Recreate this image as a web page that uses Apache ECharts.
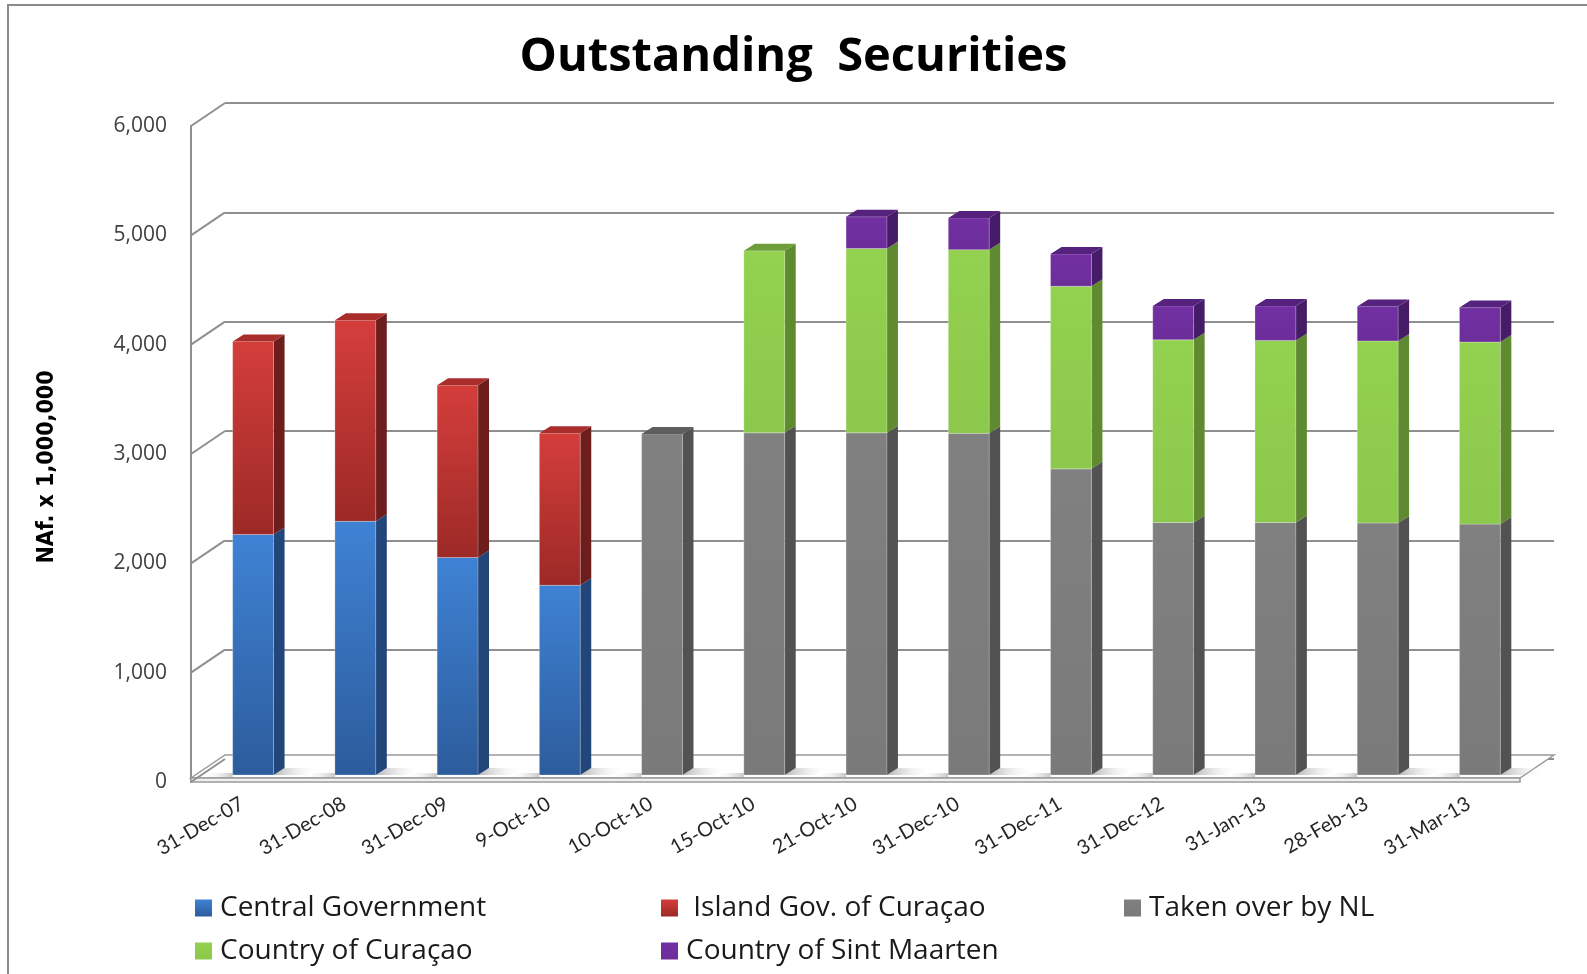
<!DOCTYPE html>
<html>
<head>
<meta charset="utf-8">
<script src="https://cdn.jsdelivr.net/npm/echarts@6/dist/echarts.min.js"></script>
<style>
  html, body { margin: 0; padding: 0; background: #fff; }
  #chart { width: 1587px; height: 974px; }
</style>
</head>
<body>
<div id="chart"></div>
<script>
// categories and stacked values (NAf. x 1,000,000)
let categories = ['31-Dec-07', '31-Dec-08', '31-Dec-09', '9-Oct-10', '10-Oct-10', '15-Oct-10',
    '21-Oct-10', '31-Dec-10', '31-Dec-11', '31-Dec-12', '31-Jan-13', '28-Feb-13', '31-Mar-13'];
let centralGov   = [2200, 2320, 1990, 1735, 0, 0, 0, 0, 0, 0, 0, 0, 0];
let islandGov    = [1765, 1840, 1575, 1390, 0, 0, 0, 0, 0, 0, 0, 0, 0];
let takenOverNL  = [0, 0, 0, 0, 3120, 3130, 3130, 3125, 2800, 2310, 2310, 2305, 2295];
let countryCur   = [0, 0, 0, 0, 0, 1665, 1685, 1680, 1670, 1670, 1665, 1665, 1665];
let sintMaarten  = [0, 0, 0, 0, 0, 0, 290, 290, 295, 310, 315, 315, 315];
let yTicks = [0, 1000, 2000, 3000, 4000, 5000, 6000];

let seriesNames = ['Central Government', ' Island Gov. of Curaçao', 'Taken over by NL',
    'Country of Curaçao', 'Country of Sint Maarten'];
let seriesValues = [centralGov, islandGov, takenOverNL, countryCur, sintMaarten];

// colours: front (top, bottom), side, top face
let faces = [
    { front: ['#3f82d4', '#2c5c9c'], side: '#22467a', top: '#2f64a8' },
    { front: ['#d43e3b', '#9c2926'], side: '#6c1d1c', top: '#a82d2b' },
    { front: ['#808080', '#7a7a7a'], side: '#525252', top: '#5e5e5e' },
    { front: ['#93d150', '#8cc84b'], side: '#5f8a30', top: '#6e9e3a' },
    { front: ['#7230a2', '#6c2d9a'], side: '#461c68', top: '#55227e' }
];

// 3D offsets
const WALL_DX = 34, WALL_DY = -23;   // back wall relative to front plane
const BAR_SX = 11, BAR_SY = -7;      // bar front face relative to front plane
const BAR_DX = 11, BAR_DY = -7;      // bar depth

function grad(c) {
    return new echarts.graphic.LinearGradient(0, 0, 0, 1, [
        { offset: 0, color: c[0] }, { offset: 1, color: c[1] }
    ]);
}

// stack data: [index, base, top, isTop]
function stackData(si) {
    let out = [];
    categories.forEach((c, i) => {
        let base = 0;
        for (let k = 0; k < si; k++) base += seriesValues[k][i];
        let v = seriesValues[si][i];
        if (!v) return;
        let above = 0;
        for (let k = si + 1; k < seriesValues.length; k++) above += seriesValues[k][i];
        out.push([i, base, base + v, above > 0 ? 0 : 1]);
    });
    return out;
}

function makeBarRenderer(si) {
    return function (params, api) {
        let idx = api.value(0);
        let p0 = api.coord([idx, api.value(1)]);
        let p1 = api.coord([idx, api.value(2)]);
        let w = api.size([1, 0])[0] * 0.4;
        let x = p0[0] - w / 2 + BAR_SX;
        let yb = p0[1] + BAR_SY;
        let yt = p1[1] + BAR_SY;
        let f = faces[si];
        let children = [
            { type: 'polygon', shape: { points: [[x + w, yt], [x + w + BAR_DX, yt + BAR_DY], [x + w + BAR_DX, yb + BAR_DY], [x + w, yb]] },
              style: { fill: f.side } },
            { type: 'rect', shape: { x: x, y: yt, width: w, height: yb - yt },
              style: { fill: grad(f.front), stroke: 'rgba(255,255,255,0.25)', lineWidth: 1 } }
        ];
        if (api.value(3)) {
            children.push({ type: 'polygon',
                shape: { points: [[x, yt], [x + BAR_DX, yt + BAR_DY], [x + w + BAR_DX, yt + BAR_DY], [x + w, yt]] },
                style: { fill: f.top } });
        }
        return { type: 'group', children: children };
    };
}

// floor, left wall diagonals and bar shadows
function renderFrame(params, api) {
    let cs = params.coordSys;
    let x0 = cs.x, x1 = cs.x + cs.width, yB = cs.y + cs.height;
    let lineStyle = { stroke: '#8f8f8f', lineWidth: 2, fill: null };
    let children = [];
    // floor slab
    children.push({ type: 'polygon', shape: { points: [[x0, yB - 4], [x1, yB - 4], [x1 + WALL_DX, yB - 4 + WALL_DY], [x0 + WALL_DX, yB - 4 + WALL_DY]] },
        style: { fill: '#ffffff', stroke: '#9a9a9a', lineWidth: 1.5 } });
    children.push({ type: 'rect', shape: { x: x0, y: yB - 4, width: cs.width, height: 4 },
        style: { fill: '#f0f0f0', stroke: '#9a9a9a', lineWidth: 1.5 } });
    // bar shadows on the floor
    let band = cs.width / categories.length;
    categories.forEach((c, i) => {
        let cx = x0 + band * (i + 0.5) + BAR_SX;
        let w = band * 0.4;
        let y = yB + BAR_SY;
        children.push({ type: 'polygon',
            shape: { points: [[cx + w / 2, y], [cx + w / 2 + BAR_DX, y + BAR_DY], [cx + w / 2 + 45, y + BAR_DY], [cx + w / 2 + 32, y]] },
            style: { fill: new echarts.graphic.LinearGradient(0, 0, 1, 0, [
                { offset: 0, color: 'rgba(120,120,120,0.55)' }, { offset: 1, color: 'rgba(255,255,255,0)' }]) } });
        children.push({ type: 'polygon',
            shape: { points: [[cx - w / 2 - 30, y + 2], [cx - w / 2, y + 2], [cx - w / 2, y - 2], [cx - w / 2 - 26, y - 2]] },
            style: { fill: new echarts.graphic.LinearGradient(1, 0, 0, 0, [
                { offset: 0, color: 'rgba(130,130,130,0.45)' }, { offset: 1, color: 'rgba(255,255,255,0)' }]) } });
    });
    // left wall
    yTicks.forEach(v => {
        let p = api.coord([0, v]);
        children.push({ type: 'line', shape: { x1: x0, y1: p[1], x2: x0 + WALL_DX, y2: p[1] + WALL_DY }, style: lineStyle });
    });
    return { type: 'group', children: children };
}

let chart = echarts.init(document.getElementById('chart'));

let series = [{
    type: 'custom', name: 'frame', xAxisIndex: 0, yAxisIndex: 0, z: 1,
    renderItem: renderFrame, data: [[0, 0]], silent: true, legendHoverLink: false
}];
seriesNames.forEach((name, si) => {
    series.push({
        type: 'custom', name: name, xAxisIndex: 0, yAxisIndex: 0, z: 3,
        renderItem: makeBarRenderer(si),
        itemStyle: { color: grad(faces[si].front) },
        encode: { x: 0, y: [1, 2] },
        data: stackData(si)
    });
});

function legendAt(name, left, top) {
    return {
        data: [name], left: left, top: top, orient: 'horizontal',
        icon: 'rect', itemWidth: 17, itemHeight: 17, selectedMode: false,
        textStyle: { fontFamily: 'Open Sans', fontSize: 28, color: '#1a1a1a', padding: [0, 0, 0, 3] }
    };
}

let option = {
    animation: false,
    backgroundColor: '#ffffff',
    title: {
        text: 'Outstanding  Securities', left: 'center', top: 29,
        textStyle: { fontFamily: 'Open Sans', fontWeight: 'bold', fontSize: 47, color: '#000' }
    },
    legend: [
        legendAt(seriesNames[0], 190, 889),
        legendAt(seriesNames[1], 656, 889),
        legendAt(seriesNames[2], 1119, 889),
        legendAt(seriesNames[3], 190, 932),
        legendAt(seriesNames[4], 656, 932)
    ],
    grid: [
        { left: 191, right: 67, top: 126, bottom: 192 },
        { left: 191 + WALL_DX, right: 67 - WALL_DX, top: 126 + WALL_DY, bottom: 192 - WALL_DY }
    ],
    xAxis: [
        { type: 'category', gridIndex: 0, data: categories,
          axisLine: { show: false }, axisTick: { show: false },
          axisLabel: { rotate: 30, margin: 20, interval: 0, fontFamily: 'Lato', fontSize: 20, color: '#262626' } },
        { type: 'category', gridIndex: 1, data: categories, show: false }
    ],
    yAxis: [
        { type: 'value', gridIndex: 0, min: 0, max: 6000, interval: 1000,
          axisLine: { show: true, lineStyle: { color: '#8f8f8f', width: 2 } },
          axisTick: { show: false }, splitLine: { show: false },
          axisLabel: { margin: 24, fontFamily: 'Open Sans', fontSize: 21, color: '#404040',
                       formatter: v => v.toLocaleString('en-US') } },
        { type: 'value', gridIndex: 1, min: 0, max: 6000, interval: 1000,
          axisLine: { show: false }, axisTick: { show: false }, axisLabel: { show: false },
          splitLine: { show: true, lineStyle: { color: '#8f8f8f', width: 2 } } }
    ],
    graphic: [
        { type: 'polyline', shape: { points: [[8, 974], [8, 5], [1587, 5]] },
          style: { stroke: '#8a8a8a', lineWidth: 2, fill: null }, z: 0 },
        { type: 'text', x: 47, y: 467, rotation: Math.PI / 2,
          style: { text: 'NAf. x 1,000,000', fontFamily: "'Liberation Sans Narrow', 'DejaVu Sans Condensed', Roboto, sans-serif",
                   fontWeight: 'bold', fontSize: 23, fill: '#000', align: 'center', verticalAlign: 'middle' } }
    ],
    series: series
};

chart.setOption(option);
</script>
</body>
</html>
